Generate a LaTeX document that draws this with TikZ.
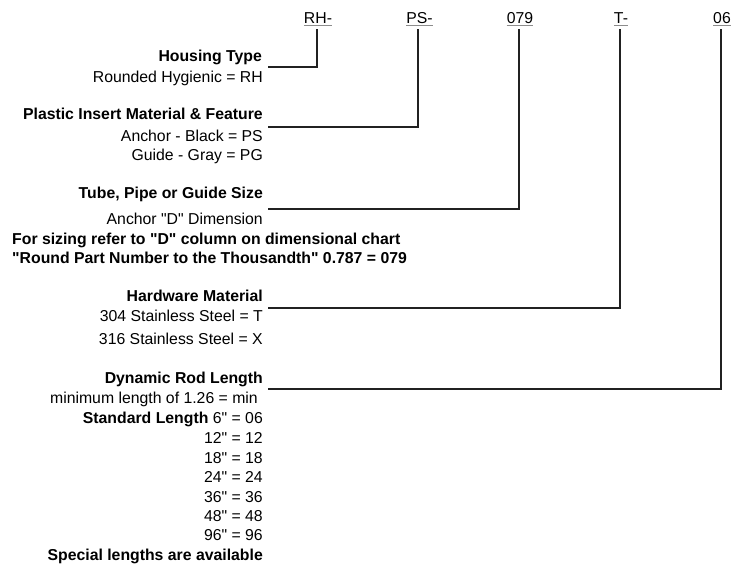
\documentclass[tikz,border=0pt]{standalone}
\usepackage{fontspec}
\setmainfont{Liberation Sans}[Ligatures=TeXOff]
\begin{document}
\begin{tikzpicture}[x=1bp,y=-1bp,
  txt/.style={anchor=base east,inner sep=0pt,font=\fontsize{15.8bp}{20bp}\selectfont},
  ttl/.style={txt,font=\fontsize{15.8bp}{20bp}\selectfont\bfseries},
  ltxt/.style={anchor=base west,inner sep=0pt,font=\fontsize{15.8bp}{20bp}\selectfont\bfseries},
  code/.style={anchor=base,inner sep=0pt,font=\fontsize{15.8bp}{20bp}\selectfont},
  conn/.style={draw=black!87,line width=2.6bp},
  uline/.style={draw=black!45,line width=1.4bp}]
\useasboundingbox (0,0) rectangle (739,567);
% codes
\node[code] (rh) at (318,24) {RH-};
\node[code] (ps) at (419.5,24) {PS-};
\node[code] (sz) at (520,24) {079};
\node[code] (hw) at (621,24) {T-};
\node[code] (rl) at (722,24) {06};
\foreach \n in {rh,ps,sz,hw,rl}
  \draw[uline] ([yshift=-1.6bp]\n.base west) -- ([yshift=-1.6bp]\n.base east);
% vertical tops
\coordinate (rhv) at (317,29);
\coordinate (psv) at (418,29);
\coordinate (szv) at (519,29);
\coordinate (hwv) at (620,29);
\coordinate (rlv) at (721,29);
% left ends
\coordinate (rhl) at (268,67);
\coordinate (psl) at (268,127);
\coordinate (szl) at (268,209);
\coordinate (hwl) at (268,308);
\coordinate (rll) at (268,389);
\draw[conn] (rhl) -| (rhv);
\draw[conn] (psl) -| (psv);
\draw[conn] (szl) -| (szv);
\draw[conn] (hwl) -| (hwv);
\draw[conn] (rll) -| (rlv);
% texts
\node[ttl] (t1) at (262,62) {Housing Type};
\node[txt] (t1a) at (263,83) {Rounded Hygienic = RH};
\node[ttl] (t2) at (263,120) {Plastic Insert Material \& Feature};
\node[txt] (t2a) at (263,141.5) {Anchor - Black = PS};
\node[txt] (t2b) at (263,161) {Guide - Gray = PG};
\node[ttl] (t3) at (263,199) {Tube, Pipe or Guide Size};
\node[txt] (t3a) at (263,224) {Anchor "D" Dimension};
\node[ltxt] (t3b) at (12,244) {For sizing refer to "D" column on dimensional chart};
\node[ltxt] (t3c) at (12,263) {"Round Part Number to the Thousandth" 0.787 = 079};
\node[ttl] (t4) at (263,301) {Hardware Material};
\node[txt] (t4a) at (263,321) {304 Stainless Steel = T};
\node[txt] (t4b) at (263,344) {316 Stainless Steel = X};
\node[ttl] (t5) at (263,383) {Dynamic Rod Length};
\node[txt] (t5a) at (258,403) {minimum length of 1.26 = min};
\node[txt] (t5b) at (263,423) {\textbf{Standard Length} 6" = 06};
\node[txt] (t5c) at (263,443) {12" = 12};
\node[txt] (t5d) at (263,463) {18" = 18};
\node[txt] (t5e) at (263,482) {24" = 24};
\node[txt] (t5f) at (263,502) {36" = 36};
\node[txt] (t5g) at (263,521) {48" = 48};
\node[txt] (t5h) at (263,540) {96" = 96};
\node[ttl] (t5i) at (263,560) {Special lengths are available};
\end{tikzpicture}
\end{document}
